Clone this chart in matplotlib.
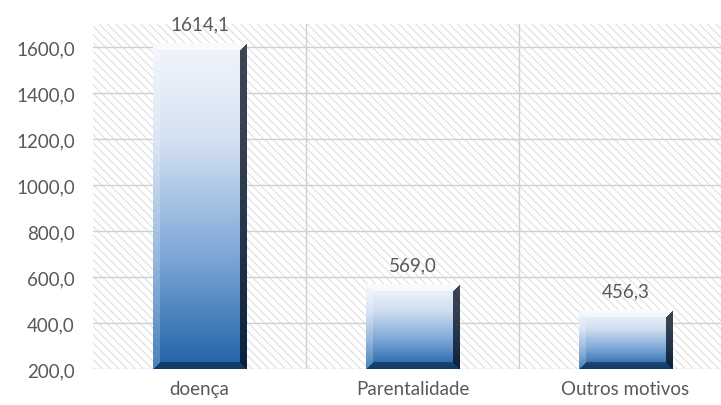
import numpy as np
import matplotlib.pyplot as plt
from matplotlib.patches import Rectangle
from matplotlib.ticker import FuncFormatter, MultipleLocator
from matplotlib.colors import LinearSegmentedColormap, to_rgb

categories = ["doença", "Parentalidade", "Outros motivos"]
values = [1614.1, 569.0, 456.3]

plt.rcParams['font.family'] = ['Lato', 'DejaVu Sans']
plt.rcParams['hatch.linewidth'] = 0.7
txt = '#595959'

fig = plt.figure(figsize=(7.21, 4.06), dpi=100)
ax = fig.add_axes([93 / 721, 36 / 406, 639 / 721, 345 / 406])

ax.set_xlim(-0.5, 2.5)
ax.set_ylim(200, 1700)

# diagonal hatched background of the plot area
ax.add_patch(Rectangle((0, 0), 1, 1, transform=ax.transAxes, facecolor='white',
                       edgecolor='#dcdcdc', hatch='\\\\\\\\', lw=0, zorder=0))

ax.yaxis.set_major_locator(MultipleLocator(200))
ax.yaxis.set_major_formatter(FuncFormatter(lambda v, p: f"{v:.1f}".replace('.', ',')))
ax.set_xticks(range(len(categories)))
ax.set_xticks([0.5, 1.5], minor=True)
ax.set_xticklabels(categories)
ax.grid(axis='y', color='#d0d0d0', lw=1.0, zorder=1)
ax.grid(axis='x', which='minor', color='#d0d0d0', lw=1.0, zorder=1)
ax.set_axisbelow(True)
ax.tick_params(axis='both', which='both', length=0, labelsize=13.5, colors=txt)
ax.tick_params(axis='y', pad=13)
ax.tick_params(axis='x', pad=8)
for s in ax.spines.values():
    s.set_visible(False)

# vertical colour ramp for the bar bodies
ramp = LinearSegmentedColormap.from_list('ramp', [
    (0.0, '#f2f6fb'), (0.3, '#d3e0f1'), (0.65, '#7ea8d8'), (1.0, '#1f62a8')])

bars = ax.bar(range(len(values)), values, width=0.44, facecolor='none', edgecolor='none')


def bevel_image(w, h, b=7):
    # build an RGB array with a simple bevel: light top/left, dark right/bottom
    rows = np.arange(h)[:, None] * np.ones((1, w))
    cols = np.ones((h, 1)) * np.arange(w)[None, :]
    img = ramp(rows / max(h - 1, 1))[..., :3]
    dt, db = rows, h - 1 - rows
    dl, dr = cols, w - 1 - cols
    d = np.stack([dt, dl, dr, db])
    side = d.argmin(axis=0)
    dmin = d.min(axis=0)
    edge = dmin < b
    white = np.ones(3)
    black = np.array(to_rgb('#020b1a'))
    mix = {0: (white, 0.55), 1: (white, 0.2), 2: (black, 0.75), 3: (black, 0.45)}
    for k, (c, a) in mix.items():
        m = edge & (side == k)
        img[m] = img[m] * (1 - a) + c * a
    return img


fig.canvas.draw()
for bar, v in zip(bars, values):
    x0, x1 = bar.get_x(), bar.get_x() + bar.get_width()
    y0, y1 = 200, v
    p0 = ax.transData.transform((x0, y0))
    p1 = ax.transData.transform((x1, y1))
    w = int(round(p1[0] - p0[0]))
    h = int(round(p1[1] - p0[1]))
    ax.imshow(bevel_image(w, h), extent=(x0, x1, y0, y1), aspect='auto',
              interpolation='bilinear', zorder=3)
    ax.annotate(f"{v:.1f}".replace('.', ','), (bar.get_x() + bar.get_width() / 2, v),
                xytext=(0, 8), textcoords='offset points', ha='center', va='bottom',
                fontsize=13.5, color=txt, annotation_clip=False)

ax.set_xlim(-0.5, 2.5)
ax.set_ylim(200, 1700)

fig.savefig('out.png', dpi=100)
